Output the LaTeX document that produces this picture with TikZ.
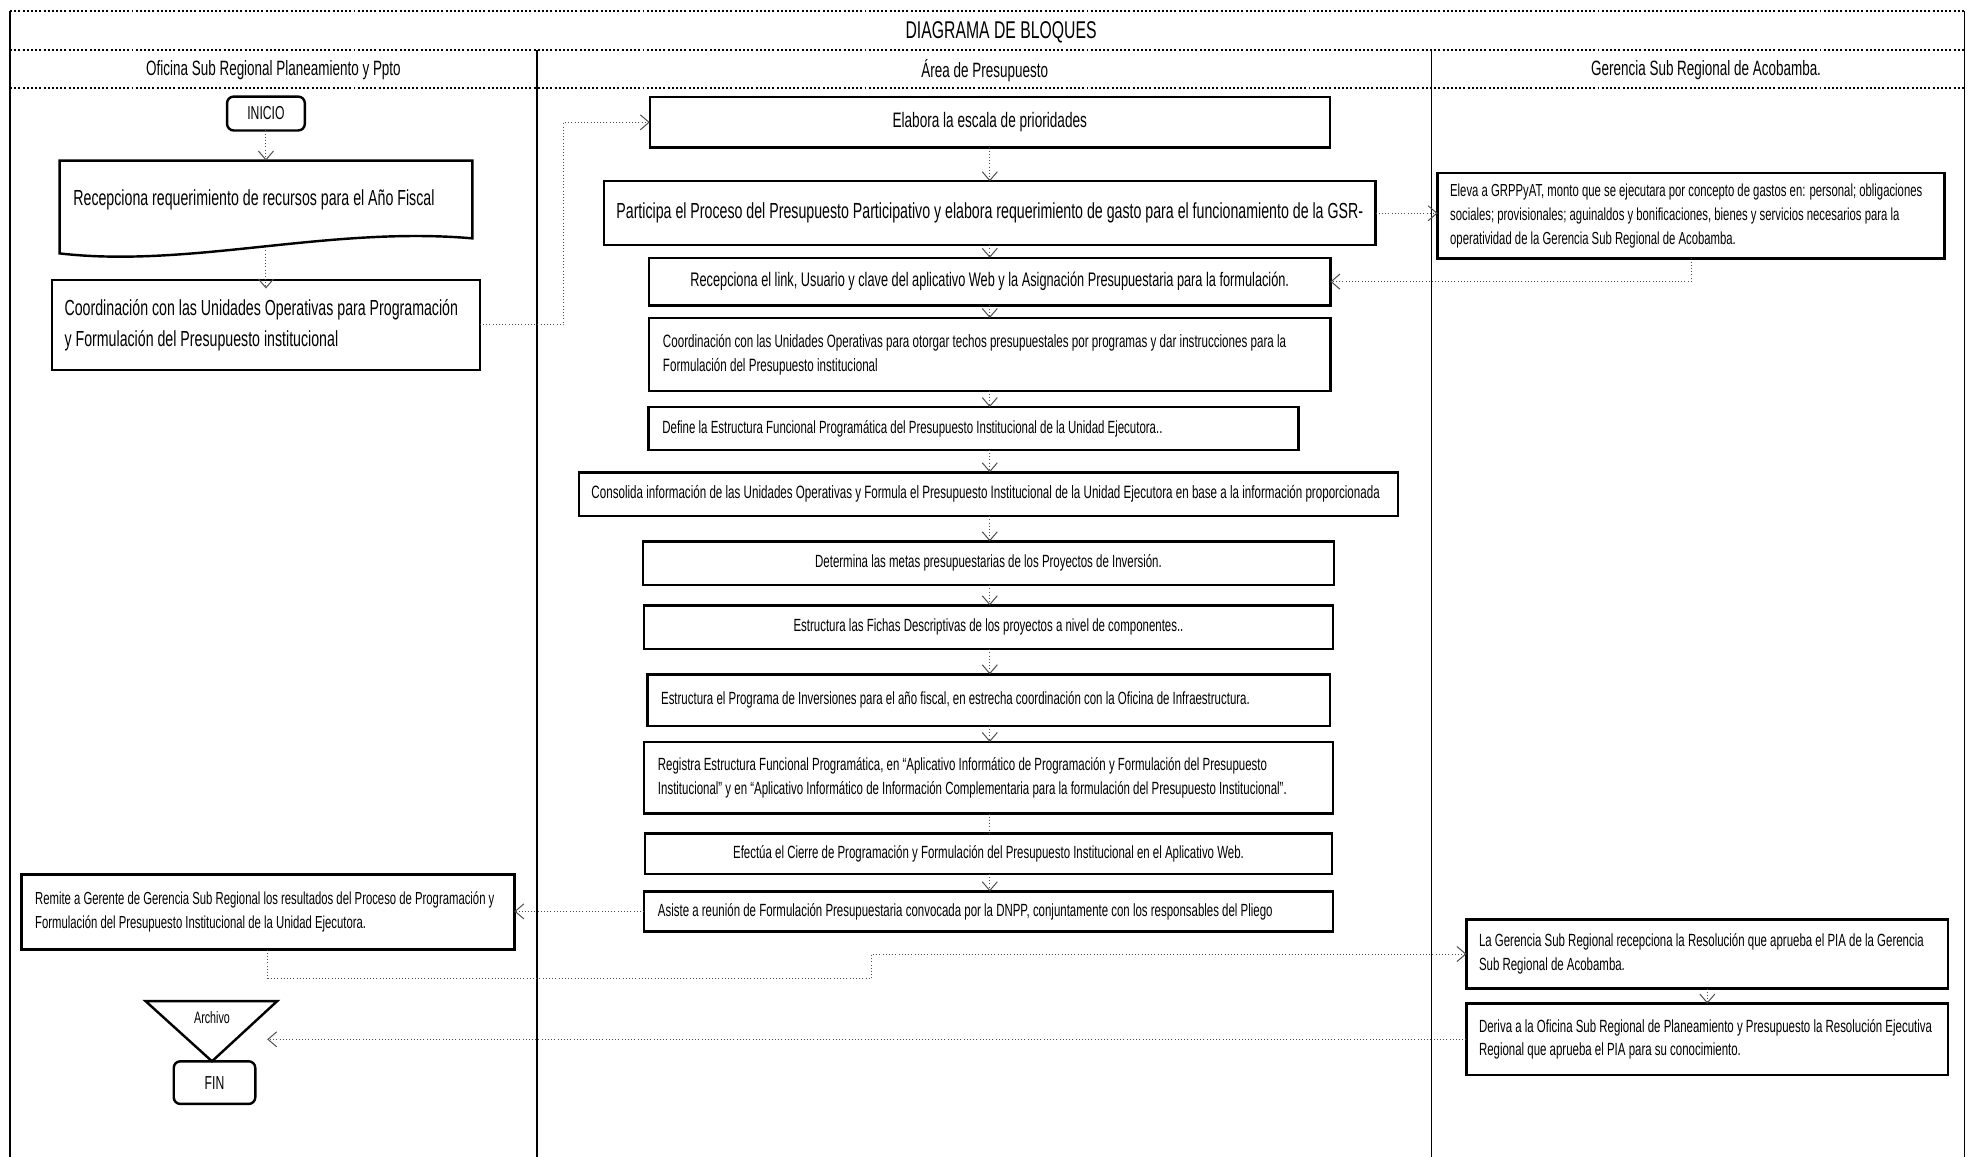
\documentclass[tikz,border=0pt]{standalone}
\usepackage{fontspec}
\setmainfont{Liberation Sans}[FakeStretch=0.65]
\usetikzlibrary{arrows.meta,positioning,calc}
\newcommand{\fsz}[2]{\fontsize{#1}{#2}\selectfont}

\begin{document}
\begin{tikzpicture}[
  x=0.2mm, y=-0.2mm,
  node distance=3mm,
  lane/.style={font=\fsz{9.4}{11}},
  b/.style={draw=black,line width=1.1pt,outer sep=0pt,inner xsep=1.5mm,inner ysep=0.8mm,font=\fsz{8}{10.8}},
  bc/.style={b,align=center},
  bl/.style={b,align=flush left,inner xsep=2.2mm},
  term/.style={b,rounded corners=3pt,font=\fsz{8.5}{10}},
  flow/.style={-{Straight Barb[length=1.4mm,width=2.4mm]},densely dotted,draw=black!70,line width=0.45pt},
  frame/.style={line width=0.6pt},
  hline/.style={densely dotted,line width=0.9pt}
]
\useasboundingbox (0,0) rectangle (1568,922);
\draw[hline] (8,9) -- (1566,9);
\draw[hline] (8,40) -- (1566,40);
\draw[hline] (8,70) -- (1566,70);
\draw[frame] (8,9) -- (8,922) (1566,9) -- (1566,922) (428,40) -- (428,922) (1141,40) -- (1141,922);
\node[font=\fsz{11}{13}] (titulo) at (798,26) {DIAGRAMA DE BLOQUES};
\node[lane] (l1) at (218,56) {Oficina Sub Regional Planeamiento y Ppto};
\node[lane] (l2) at (785,56) {Área de Presupuesto};
\node[lane] (l3) at (1360,56) {Gerencia Sub Regional de Acobamba.};

\node[term,minimum width=12.4mm,minimum height=5.4mm] (inicio) at (212,90.5) {INICIO};
\node[bl,draw=none,text width=61.4mm,minimum height=12.4mm,font=\fsz{9.9}{12},below=4.8mm of inicio] (recep) {Recepciona requerimiento de recursos para el Año Fiscal};
\draw[line width=1.1pt] ($(recep.south west)+(0,12)$) -- (recep.north west) -- (recep.north east) -- (recep.south east)
  .. controls ($(recep.south east)+(-115,-10)$) and ($(recep.south west)+(104,24)$) .. ($(recep.south west)+(0,12)$) -- cycle;
\node[bl,text width=64.2mm,inner xsep=2mm,minimum height=14.4mm,font=\fsz{9.9}{14},below=6.6mm of recep] (coordL) {Coordinación con las Unidades Operativas para Programación\\y Formulación del Presupuesto institucional};
\node[bl,text width=74.2mm,minimum height=12mm,font=\fsz{7.9}{10.8}] (remite) at (213.5,727) {Remite a Gerente de Gerencia Sub Regional los resultados del Proceso de Programación y\\Formulación del Presupuesto Institucional de la Unidad Ejecutora.};
\node[font=\fsz{7.5}{9}] (archivo) at (169,811) {Archivo};
\draw[line width=1.1pt] (116,798) -- (221,798) -- (169,846) -- cycle;
\node[term,minimum width=13mm,minimum height=6.8mm] (fin) at (171,863) {FIN};

\node[bc,minimum width=108.4mm,minimum height=8mm,font=\fsz{9.5}{11}] (elab) at (789,97.5) {Elabora la escala de prioridades};
\node[bc,minimum width=123mm,minimum height=10.2mm,inner xsep=1mm,font=\fsz{9.9}{11},below=5.4mm of elab] (part) {Participa el Proceso del Presupuesto Participativo y elabora requerimiento de gasto para el funcionamiento de la GSR-};
\node[bc,minimum width=108.6mm,minimum height=7.6mm,font=\fsz{8.9}{10},below=2mm of part] (link) {Recepciona el link, Usuario y clave del aplicativo Web y la Asignación Presupuestaria para la formulación.};
\node[bl,text width=104.2mm,minimum height=11.6mm,font=\fsz{8.1}{10.8},below=2mm of link] (techos) {Coordinación con las Unidades Operativas para otorgar techos presupuestales por programas y dar instrucciones para la\\Formulación del Presupuesto institucional};
\node[bl,text width=99.2mm,minimum height=6.8mm,below=2.6mm of techos,xshift=-2.6mm] (define) {Define la Estructura Funcional Programática del Presupuesto Institucional de la Unidad Ejecutora..};
\node[bl,text width=126.6mm,inner xsep=2mm,minimum height=7mm,font=\fsz{8.1}{10},below=3.6mm of define,xshift=2.4mm] (consol) {Consolida información de las Unidades Operativas y Formula el Presupuesto Institucional de la Unidad Ejecutora en base a la información proporcionada};
\node[bc,minimum width=110.2mm,minimum height=7mm,below=4mm of consol] (determ) {Determina las metas presupuestarias de los Proyectos de Inversión.};
\node[bc,minimum width=109.8mm,minimum height=7mm,below=3.2mm of determ] (fichas) {Estructura las Fichas Descriptivas de los proyectos a nivel de componentes..};
\node[bl,text width=104.4mm,minimum height=8.2mm,below=4mm of fichas] (progr) {Estructura el Programa de Inversiones para el año fiscal, en estrecha coordinación con la Oficina de Infraestructura.};
\node[bl,text width=105.4mm,minimum height=11.4mm,below=2.6mm of progr] (regis) {Registra Estructura Funcional Programática, en “Aplicativo Informático de Programación y Formulación del Presupuesto\\Institucional” y en “Aplicativo Informático de Información Complementaria para la formulación del Presupuesto Institucional”.};
\node[bc,minimum width=109.6mm,minimum height=6.4mm,below=3.2mm of regis] (efect) {Efectúa el Cierre de Programación y Formulación del Presupuesto Institucional en el Aplicativo Web.};
\node[bl,text width=105.4mm,minimum height=6.4mm,below=2.8mm of efect] (asiste) {Asiste a reunión de Formulación Presupuestaria convocada por la DNPP, conjuntamente con los responsables del Pliego};

\node[bl,text width=76.8mm,inner xsep=2mm,minimum height=13.6mm,font=\fsz{7.9}{11}] (eleva) at (1348,172) {Eleva a GRPPyAT, monto que se ejecutara por concepto de gastos en: personal; obligaciones\\sociales; provisionales; aguinaldos y bonificaciones, bienes y servicios necesarios para la\\operatividad de la Gerencia Sub Regional de Acobamba.};
\node[bl,text width=72.8mm,inner xsep=2mm,minimum height=11mm] (gerA) at (1361,760.5) {La Gerencia Sub Regional recepciona la Resolución que aprueba el PIA de la Gerencia\\Sub Regional de Acobamba.};
\node[bl,text width=72.8mm,inner xsep=2mm,minimum height=11.4mm,below=2.4mm of gerA] (deriva) {Deriva a la Oficina Sub Regional de Planeamiento y Presupuesto la Resolución Ejecutiva\\Regional que aprueba el PIA para su conocimiento.};

\draw[flow] (inicio.south) -- (inicio.south |- recep.north);
\draw[flow] ([yshift=-1.4mm]recep.south) -- ([yshift=-1.4mm]recep.south |- coordL.north);
\draw[flow] (coordL.east) -- ++(13.4mm,0) |- (elab.west);
\draw[flow] (part.east) -- (part.east -| eleva.west);
\draw[flow] (eleva.south) |- (link.east);
\foreach \a/\b in {elab/part,part/link,link/techos,techos/define,define/consol,consol/determ,determ/fichas,fichas/progr,progr/regis,efect/asiste}
  \draw[flow] (\a.south -| elab.south) -- (\b.north -| elab.south);
\draw[densely dotted,draw=black!70,line width=0.45pt] (regis.south -| elab.south) -- (efect.north -| elab.south);
\draw[flow] (asiste.west) -- (asiste.west -| remite.east);
\coordinate (bend) at (695,780);
\draw[flow] (remite.south) |- (bend) |- (gerA.west);
\draw[flow] (gerA) -- (deriva);
\coordinate (tipArch) at (213,830);
\draw[flow] (deriva.west) -- (deriva.west -| tipArch);
\end{tikzpicture}
\end{document}
